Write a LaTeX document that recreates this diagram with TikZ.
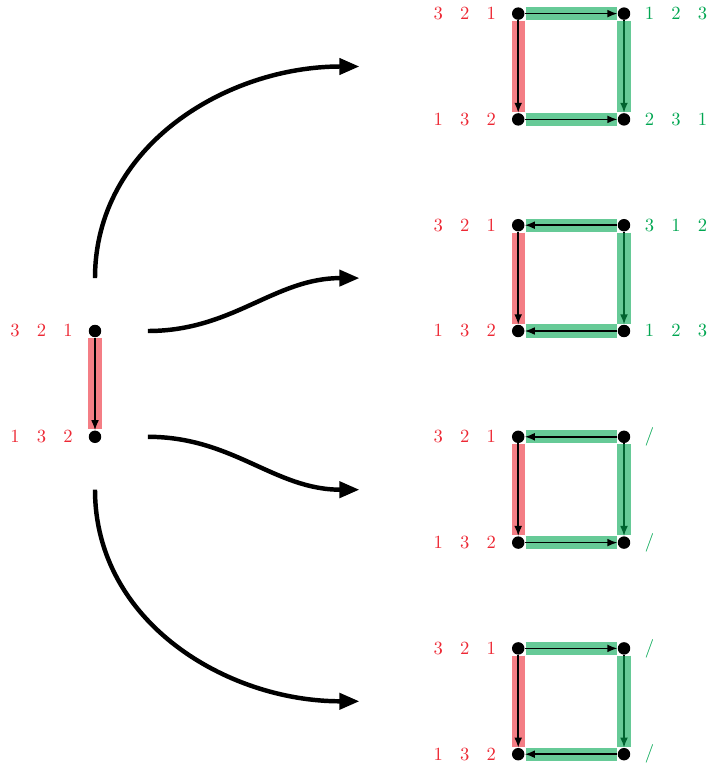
\documentclass[tikz,border=0pt]{standalone}
\usetikzlibrary{arrows.meta}
\definecolor{myred}{RGB}{237,40,52}
\definecolor{mygreen}{RGB}{0,166,81}
\newcommand{\trip}[3]{#1\hspace{9.25pt}#2\hspace{9.25pt}#3}
\tikzset{
  dot/.style={circle,fill=black,inner sep=0pt,minimum size=6.7pt},
  redlab/.style={inner sep=0pt,text=myred,anchor=east},
  greenlab/.style={inner sep=0pt,text=mygreen,anchor=west},
  redbar/.style={draw=myred,line width=7.2pt,draw opacity=0.6,shorten <=0.4pt,shorten >=0.4pt},
  greenbar/.style={draw=mygreen,line width=7.2pt,draw opacity=0.6,shorten <=0.4pt,shorten >=0.4pt},
  edgearrow/.style={draw=black,line width=0.8pt,-{Latex[length=5.4pt,width=4.2pt]}},
  bigarrow/.style={draw=black,line width=2.4pt,-{Triangle[length=10.8pt,width=8.5pt]}}
}
\begin{document}
\begin{tikzpicture}
\useasboundingbox (-1.796,-8.242) rectangle (11.588,6.257);
% left pair
\node[dot] (L1) at (0,0) {};
\node[dot] (L2) at (0,-2) {};
\node[redlab] (L1t) at ([xshift=-0.416cm]L1.center) {\trip{3}{2}{1}};
\node[redlab] (L2t) at ([xshift=-0.416cm]L2.center) {\trip{1}{3}{2}};
\draw[redbar] (L1) -- (L2);
\draw[edgearrow] (L1) -- (L2);
% big arrows
\coordinate (s1) at (0,1);   \coordinate (e1) at (5,5);
\coordinate (s2) at (1,0);   \coordinate (e2) at (5,1);
\coordinate (s3) at (1,-2);  \coordinate (e3) at (5,-3);
\coordinate (s4) at (0,-3);  \coordinate (e4) at (5,-7);
\draw[bigarrow] (s1) to[out=90,in=180] (e1);
\draw[bigarrow] (s2) to[out=0,in=180] (e2);
\draw[bigarrow] (s3) to[out=0,in=180] (e3);
\draw[bigarrow] (s4) to[out=-90,in=180] (e4);
% squares
\foreach \k/\ty in {1/6,2/2,3/-2,4/-6}{
  \pgfmathsetmacro{\by}{\ty-2}
  \node[dot] (A\k) at (8,\ty) {};
  \node[dot] (B\k) at (10,\ty) {};
  \node[dot] (C\k) at (8,\by) {};
  \node[dot] (D\k) at (10,\by) {};
  \node[redlab] (A\k t) at ([xshift=-0.416cm]A\k.center) {\trip{3}{2}{1}};
  \node[redlab] (C\k t) at ([xshift=-0.416cm]C\k.center) {\trip{1}{3}{2}};
  \draw[redbar] (A\k) -- (C\k);
  \draw[greenbar] (A\k) -- (B\k);
  \draw[greenbar] (C\k) -- (D\k);
  \draw[edgearrow] (A\k) -- (C\k);
  \draw[edgearrow] (B\k) -- (D\k);
  \draw[greenbar] (B\k) -- (D\k);
}
% right labels
\node[greenlab] (B1t) at ([xshift=0.388cm]B1.center) {\trip{1}{2}{3}};
\node[greenlab] (D1t) at ([xshift=0.388cm]D1.center) {\trip{2}{3}{1}};
\node[greenlab] (B2t) at ([xshift=0.388cm]B2.center) {\trip{3}{1}{2}};
\node[greenlab] (D2t) at ([xshift=0.388cm]D2.center) {\trip{1}{2}{3}};
\node[greenlab] (B3t) at ([xshift=0.388cm]B3.center) {$/$};
\node[greenlab] (D3t) at ([xshift=0.388cm]D3.center) {$/$};
\node[greenlab] (B4t) at ([xshift=0.388cm]B4.center) {$/$};
\node[greenlab] (D4t) at ([xshift=0.388cm]D4.center) {$/$};
% horizontal arrows
\draw[edgearrow] (A1) -- (B1);
\draw[edgearrow] (C1) -- (D1);
\draw[edgearrow] (B2) -- (A2);
\draw[edgearrow] (D2) -- (C2);
\draw[edgearrow] (B3) -- (A3);
\draw[edgearrow] (C3) -- (D3);
\draw[edgearrow] (A4) -- (B4);
\draw[edgearrow] (D4) -- (C4);
\end{tikzpicture}
\end{document}
